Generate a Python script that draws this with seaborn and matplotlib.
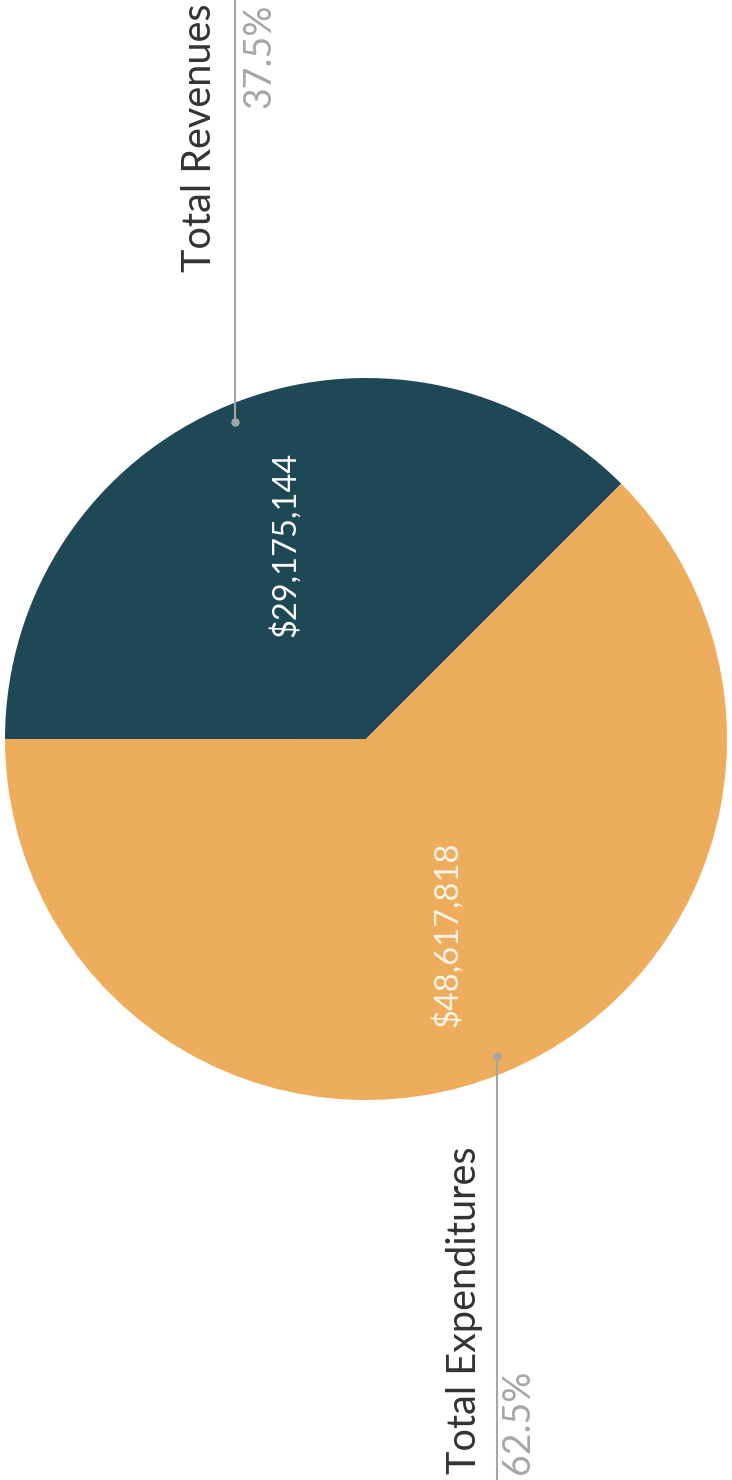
# Revenues vs expenditures pie, drawn on its side like the original scan
import numpy as np
import seaborn as sns
import matplotlib.pyplot as plt

categories = ['Total Revenues', 'Total Expenditures']
amounts = [29175144, 48617818]
amount_labels = ['$29,175,144', '$48,617,818']
share_labels = ['37.5%', '62.5%']
colors = ['#1f4857', '#edad5c']
amount_colors = ['#ffffff', '#fdf5ea']

sns.set_theme(style='white')
plt.rcParams['font.family'] = ['Lato', 'DejaVu Sans']

fig = plt.figure(figsize=(7.32, 14.8), dpi=100)
ax = fig.add_axes([0, 0, 1, 1])

center = (366, 741)
wedges, texts = ax.pie(amounts, labels=amount_labels, colors=colors,
                       startangle=45, counterclock=True,
                       center=center, radius=361, labeldistance=0.585,
                       wedgeprops=dict(linewidth=0))

for t, c in zip(texts, amount_colors):
    t.set(rotation=90, ha='center', va='center', color=c, fontsize=23.5)

# leader lines from inside each slice out to the page edge
for w, name, share in zip(wedges, categories, share_labels):
    mid = np.deg2rad((w.theta1 + w.theta2) / 2)
    px = center[0] + 0.95 * w.r * np.cos(mid)
    py = center[1] + 0.95 * w.r * np.sin(mid)
    if np.sin(mid) > 0:
        ax.plot([px, px], [py, 1480], color='#a6a6a6', lw=1.5)
        ax.text(px - 35, 1476, name, rotation=90, ha='center', va='top', fontsize=28.5, color='#333333')
        ax.text(px + 25, 1476, share, rotation=90, ha='center', va='top', fontsize=27, color='#a6a6a6')
    else:
        ax.plot([px, px], [py, 0], color='#a6a6a6', lw=1.5)
        ax.text(px - 33, 6, name, rotation=90, ha='center', va='bottom', fontsize=28.5, color='#333333')
        ax.text(px + 21, 6, share, rotation=90, ha='center', va='bottom', fontsize=27, color='#a6a6a6')
    ax.plot(px, py, 'o', color='#a6a6a6', ms=5)

ax.set_xlim(0, 732)
ax.set_ylim(0, 1480)
ax.set_aspect('auto')
ax.axis('off')

fig.savefig('out.png', dpi=100)
